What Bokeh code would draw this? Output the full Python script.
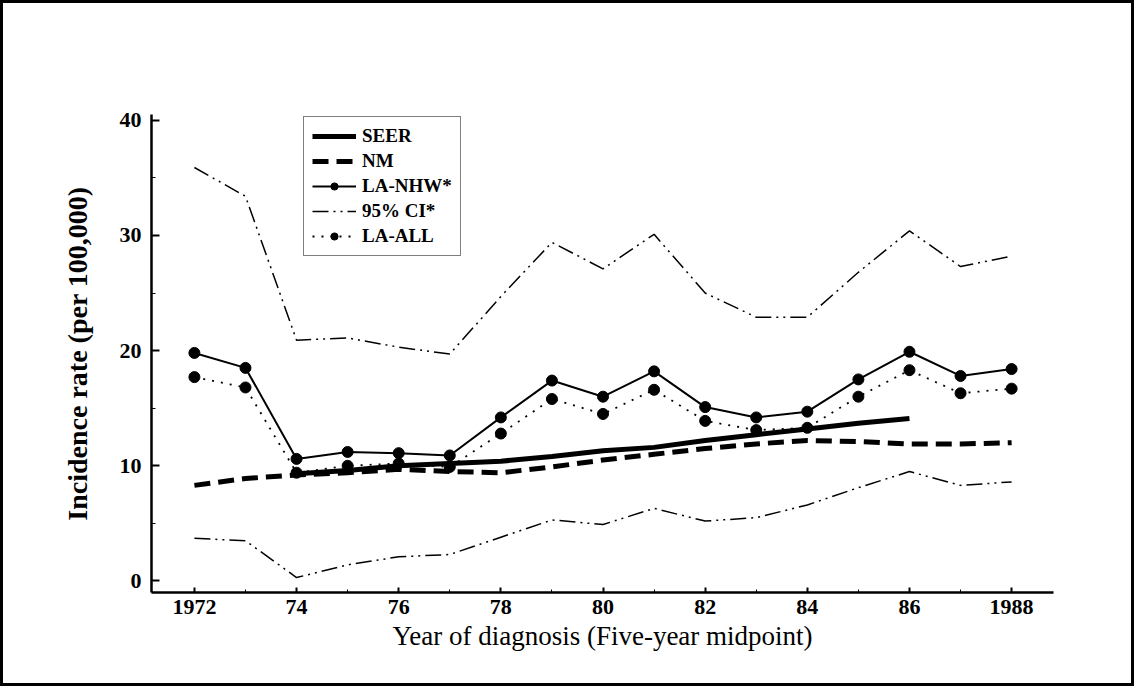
from bokeh.plotting import figure
from bokeh.models import Legend, LegendItem, FixedTicker, Range1d
from bokeh.embed import file_html
from bokeh.resources import INLINE

years = list(range(1972, 1989))
seer_years = list(range(1974, 1987))
seer = [9.3, 9.6, 10.0, 10.2, 10.4, 10.8, 11.3, 11.6, 12.2, 12.7, 13.2, 13.7, 14.1]
nm = [8.3, 8.9, 9.2, 9.4, 9.7, 9.5, 9.4, 9.9, 10.5, 11.0, 11.5, 11.9, 12.2, 12.1, 11.9, 11.9, 12.0]
la_nhw = [19.8, 18.5, 10.6, 11.2, 11.1, 10.9, 14.2, 17.4, 16.0, 18.2, 15.1, 14.2, 14.7, 17.5, 19.9, 17.8, 18.4]
ci_upper = [35.9, 33.4, 20.9, 21.1, 20.3, 19.7, 24.7, 29.4, 27.1, 30.1, 25.0, 22.9, 22.9, 26.8, 30.4, 27.3, 28.2]
ci_lower = [3.7, 3.5, 0.3, 1.4, 2.1, 2.3, 3.8, 5.3, 4.9, 6.3, 5.2, 5.5, 6.6, 8.1, 9.5, 8.3, 8.6]
la_all = [17.7, 16.8, 9.4, 10.0, 10.2, 9.9, 12.8, 15.8, 14.5, 16.6, 13.9, 13.1, 13.3, 16.0, 18.3, 16.3, 16.7]

x_ticks = [1972, 1974, 1976, 1978, 1980, 1982, 1984, 1986, 1988]
x_tick_labels = ["1972", "74", "76", "78", "80", "82", "84", "86", "1988"]
y_ticks = [0, 10, 20, 30, 40]
y_minor = [5, 15, 25, 35]

FONT = "Liberation Serif"

p = figure(width=1134, height=686, output_backend="svg", toolbar_location=None,
           x_range=Range1d(1971.16, 1988.82), y_range=Range1d(-1.0, 40.5),
           min_border_left=148, min_border_right=84, min_border_top=111, min_border_bottom=97)
p.styles = {"border": "3px solid black", "box-sizing": "border-box"}
p.xgrid.visible = False
p.ygrid.visible = False
p.outline_line_color = None
p.background_fill_color = "white"
p.border_fill_color = "white"

r_seer = p.line(seer_years, seer, line_color="black", line_width=5)
r_nm = p.line(years, nm, line_color="black", line_width=5, line_dash="16 8")
r_nhw_l = p.line(years, la_nhw, line_color="black", line_width=2)
r_nhw_s = p.scatter(years, la_nhw, size=11, color="black")
r_ciu = p.line(years, ci_upper, line_color="black", line_width=1.5, line_dash="16 5 2 5 2 5")
r_cil = p.line(years, ci_lower, line_color="black", line_width=1.5, line_dash="16 5 2 5 2 5")
r_all_l = p.line(years, la_all, line_color="black", line_width=1.8, line_dash="2 7")
r_all_s = p.scatter(years, la_all, size=11, color="black")

for ax in (p.xaxis[0], p.yaxis[0]):
    ax.axis_line_width = 2.5
    ax.axis_line_color = "black"
    ax.major_tick_line_color = "black"
    ax.minor_tick_line_color = "black"
    ax.major_tick_line_width = 2
    ax.major_tick_out = 0
    ax.minor_tick_out = 0
    ax.major_label_text_font = FONT
    ax.major_label_text_font_style = "bold"
    ax.major_label_text_font_size = "22px"
    ax.major_label_text_color = "black"
    ax.axis_label_text_font = FONT
    ax.axis_label_text_font_style = "normal"
    ax.axis_label_text_font_size = "27px"
    ax.axis_label_text_color = "black"

p.xaxis.ticker = FixedTicker(ticks=x_ticks, minor_ticks=years)
p.xaxis.major_label_overrides = {t: l for t, l in zip(x_ticks, x_tick_labels)}
p.xaxis.major_tick_in = 5
p.xaxis.minor_tick_in = 3
p.xaxis.major_label_standoff = 7
p.xaxis.axis_label = "Year of diagnosis (Five-year midpoint)"
p.xaxis.axis_label_standoff = 4

p.yaxis.ticker = FixedTicker(ticks=y_ticks, minor_ticks=y_minor)
p.yaxis.major_tick_in = 8
p.yaxis.minor_tick_in = 4
p.yaxis.major_label_standoff = 10
p.yaxis.axis_label = "Incidence rate (per 100,000)"
p.yaxis.axis_label_text_font_style = "bold"
p.yaxis.axis_label_text_font_size = "28px"
p.yaxis.axis_label_standoff = 24

legend = Legend(items=[
    LegendItem(label="SEER", renderers=[r_seer]),
    LegendItem(label="NM", renderers=[r_nm]),
    LegendItem(label="LA-NHW*", renderers=[r_nhw_l, r_nhw_s]),
    LegendItem(label="95% CI*", renderers=[r_ciu]),
    LegendItem(label="LA-ALL", renderers=[r_all_l, r_all_s]),
], location=(152, 336))
legend.label_text_font = FONT
legend.label_text_font_style = "bold"
legend.label_text_font_size = "19px"
legend.label_text_color = "black"
legend.glyph_width = 44
legend.glyph_height = 18
legend.label_height = 18
legend.label_standoff = 6
legend.spacing = 3
legend.padding = 8
legend.margin = 0
legend.border_line_color = "black"
legend.border_line_width = 1.5
legend.background_fill_alpha = 1.0
p.add_layout(legend)

open("out.html", "w").write(file_html(p, INLINE))
